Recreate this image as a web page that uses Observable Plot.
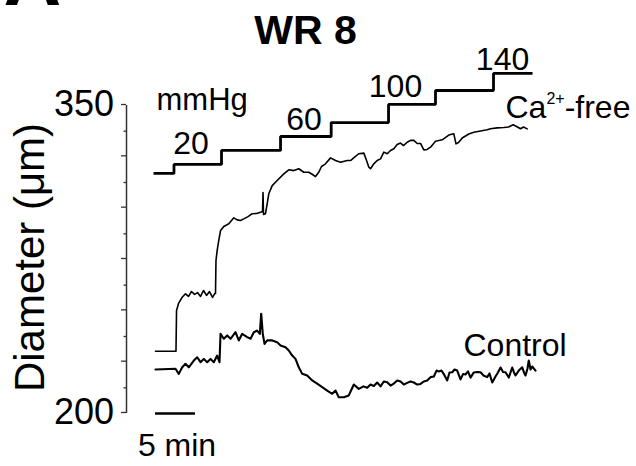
<!DOCTYPE html>
<html><head><meta charset="utf-8">
<script src="https://cdn.jsdelivr.net/npm/d3@7"></script>
<script src="https://cdn.jsdelivr.net/npm/@observablehq/plot@0.6"></script>
<style>
html,body{margin:0;padding:0;background:#fff;}
#chart svg{display:block;font-family:Arial,"Liberation Sans",Helvetica,sans-serif;}
</style></head><body><div id="chart"></div>
<script>
// Time in minutes, diameter in µm
const caFreeTime = [0, 2.29, 2.56, 2.63, 2.88, 3.34, 3.75, 4.13, 4.5, 4.88, 5.25, 5.63, 6.0, 6.38, 6.75, 7.13, 7.38, 7.5, 7.56, 7.71, 7.91, 8.13, 8.54, 9.16, 9.79, 10.21, 10.63, 11.04, 11.56, 12.09, 12.63, 13.13, 13.38, 13.44, 13.5, 13.75, 13.96, 14.16, 14.59, 15.21, 16.04, 16.66, 17.29, 17.91, 18.54, 19.16, 19.63, 20.0, 20.41, 20.75, 21.25, 21.88, 22.5, 23.13, 23.96, 24.38, 25.0, 25.41, 26.04, 26.38, 26.66, 26.88, 27.29, 27.71, 28.13, 28.54, 28.96, 29.38, 29.79, 30.21, 30.63, 31.0, 31.46, 31.88, 32.29, 32.71, 33.13, 33.54, 33.96, 34.38, 35.0, 35.84, 36.66, 37.29, 37.56, 37.88, 38.34, 39.16, 39.79, 40.63, 41.46, 41.88, 42.71, 43.54, 44.13, 44.71, 45.13, 45.63, 46.0, 46.46];
const caFreeDiameter = [230.3, 230.3, 230.3, 250.2, 253.6, 256.6, 258.3, 257.0, 259.4, 258.0, 258.9, 257.0, 259.9, 257.5, 259.4, 256.5, 258.3, 258.4, 274.5, 279.4, 284.3, 289.1, 291.1, 292.4, 295.3, 294.3, 294.0, 294.8, 295.9, 297.3, 297.4, 298.0, 298.4, 307.6, 296.9, 297.3, 302.1, 307.0, 311.0, 313.5, 316.7, 318.7, 318.3, 319.2, 317.5, 317.5, 316.4, 315.4, 317.5, 320.3, 321.6, 324.5, 323.2, 322.4, 323.2, 323.2, 325.2, 326.5, 326.8, 323.2, 320.0, 319.2, 321.6, 323.2, 324.0, 327.3, 326.5, 328.1, 328.9, 331.0, 331.7, 330.5, 332.1, 333.0, 333.0, 331.5, 331.5, 328.4, 328.6, 329.7, 332.6, 333.3, 335.6, 336.2, 331.3, 332.0, 334.2, 336.1, 337.0, 337.6, 338.2, 338.7, 339.1, 339.3, 339.5, 340.6, 339.8, 338.7, 339.5, 338.6];

const controlTime = [0, 2.5, 2.91, 3.34, 3.75, 4.16, 4.79, 5.21, 5.63, 6.04, 6.46, 6.88, 7.29, 7.71, 8.0, 8.13, 8.54, 8.96, 9.38, 10.0, 10.41, 10.84, 11.46, 11.88, 12.29, 12.71, 13.04, 13.21, 13.41, 13.63, 13.96, 14.59, 15.21, 15.63, 16.25, 16.66, 17.09, 17.5, 17.91, 18.34, 18.96, 19.59, 20.21, 20.84, 21.46, 22.09, 22.5, 22.91, 23.54, 24.16, 24.79, 25.41, 26.0, 26.46, 26.88, 27.29, 27.71, 28.13, 28.54, 28.96, 29.38, 29.79, 30.21, 30.63, 31.04, 31.46, 31.88, 32.29, 32.71, 33.13, 33.54, 33.96, 34.38, 34.79, 35.13, 35.41, 35.75, 36.04, 36.46, 36.75, 37.09, 37.38, 37.71, 38.13, 38.44, 38.75, 39.06, 39.38, 39.79, 40.19, 40.63, 41.0, 41.46, 41.75, 42.09, 42.5, 42.81, 43.13, 43.44, 43.75, 44.16, 44.59, 44.81, 45.0, 45.41, 45.84, 46.06, 46.25, 46.5, 46.66, 46.88, 47.09, 47.5];
const controlDiameter = [221.4, 221.8, 219.3, 222.5, 224.2, 222.5, 225.8, 227.4, 225.0, 226.6, 225.0, 226.6, 225.0, 228.2, 225.0, 238.8, 236.4, 238.0, 236.4, 239.6, 235.6, 238.8, 237.2, 236.4, 239.6, 240.4, 238.8, 248.6, 238.8, 233.9, 235.6, 235.6, 234.7, 233.1, 232.3, 230.7, 228.2, 226.6, 222.5, 219.3, 218.5, 216.1, 214.5, 212.8, 211.2, 209.6, 211.2, 207.9, 207.9, 208.8, 214.1, 212.0, 213.2, 212.5, 214.1, 213.4, 215.1, 213.2, 215.6, 215.2, 213.6, 214.6, 216.1, 215.6, 214.1, 214.9, 215.6, 215.1, 214.1, 214.4, 215.6, 216.1, 217.7, 218.0, 220.9, 220.5, 220.9, 219.2, 216.1, 220.0, 220.1, 221.4, 220.9, 216.6, 219.2, 219.0, 220.5, 217.5, 220.0, 220.2, 220.1, 218.5, 217.7, 219.5, 215.1, 218.0, 220.0, 222.4, 220.2, 220.1, 217.5, 222.4, 220.0, 218.5, 220.9, 222.5, 220.0, 218.5, 221.9, 225.8, 221.4, 222.9, 220.9];

// Pressure protocol (schematic step trace drawn on the diameter axis)
const pressureStepTime = [-0.25, 2.31, 8.25, 15.63, 21.96, 29.13, 35.0, 42.25, 47.13];
const pressureTraceLevel = [316.9, 321.3, 328.1, 334.9, 341.7, 350.5, 357.3, 365.6, 365.6];
const pressureLabels = ["20", "60", "100", "140"];

const yTicksMajor = [200, 225, 250, 275, 300, 325, 350];
const yTicksMinor = [212.5, 237.5, 262.5, 287.5, 312.5, 337.5];
const yTickLabels = [200, 350];
const scaleBarMinutes = 5;

const caFree = caFreeTime.map((t, i) => ({t, d: caFreeDiameter[i]}));
const control = controlTime.map((t, i) => ({t, d: controlDiameter[i]}));
const pressure = pressureStepTime.map((t, i) => ({t, d: pressureTraceLevel[i]}));

const xDomain = [-3.625, 60.125];
const FS = 32;
const labelPos = [[4.44, 326.6], [18.56, 338.3], [30.0, 353.9], [43.38, 367.5]];
const pressureAnno = pressureLabels.map((s, i) => ({s, t: labelPos[i][0], d: labelPos[i][1]}));

const chart = Plot.plot({
  width: 636, height: 466,
  marginLeft: 126, marginRight: 0, marginTop: 105, marginBottom: 53,
  x: {domain: xDomain, axis: null},
  y: {domain: [200, 350], axis: null},
  style: {fontFamily: 'Arial, "Liberation Sans", Helvetica, sans-serif', color: "black", background: "white"},
  marks: [
    Plot.ruleX([xDomain[0]], {y1: 200, y2: 350, stroke: "#333", strokeWidth: 1.5}),
    Plot.axisY(yTicksMajor, {anchor: "left", tickSize: 5, tickPadding: 7.5, stroke: "#333", strokeWidth: 1.3,
      tickFormat: d => yTickLabels.includes(d) ? String(d) : "", fontSize: 36, fill: "black", label: null, dy: -1}),
    Plot.axisY(yTicksMinor, {anchor: "left", tickSize: 2.5, stroke: "#333", strokeWidth: 1.3, tickFormat: () => "", label: null}),
    Plot.text(["Diameter (\u03bcm)"], {frameAnchor: "left", rotate: -90, dx: -83, dy: -2, textAnchor: "middle", lineAnchor: "bottom", fontSize: 42, fill: "black"}),
    Plot.text(["WR 8"], {frameAnchor: "top", dx: -76, dy: -62, lineAnchor: "bottom", fontSize: 41, fontWeight: "bold", fill: "black"}),
    Plot.text(["A"], {frameAnchor: "top-left", dx: 3 - 126, dy: 4 - 105, textAnchor: "start", lineAnchor: "bottom", fontSize: 80, fontWeight: "bold", fill: "black"}),
    Plot.line(pressure, {x: "t", y: "d", curve: "step-after", stroke: "black", strokeWidth: 2.8, strokeLinejoin: "miter", strokeLinecap: "butt"}),
    Plot.line(caFree, {x: "t", y: "d", stroke: "black", strokeWidth: 1.6}),
    Plot.line(control, {x: "t", y: "d", stroke: "black", strokeWidth: 2.1}),
    Plot.text(pressureAnno, {x: "t", y: "d", text: "s", lineAnchor: "bottom", fontSize: FS, fill: "black"}),
    Plot.text(["mmHg"], {x: 0.125, y: 347.6, textAnchor: "start", lineAnchor: "bottom", fontSize: 31, fill: "black"}),
    Plot.text(["Ca2+-free"], {x: 43.75, y: 343.7, textAnchor: "start", lineAnchor: "bottom", fontSize: FS, fill: "black"}),
    Plot.text(["Control"], {x: 38.5, y: 228.2, textAnchor: "start", lineAnchor: "bottom", fontSize: FS, fill: "black"}),
    Plot.ruleY([200], {x1: 0, x2: scaleBarMinutes, stroke: "black", strokeWidth: 2.5}),
    Plot.text([`${scaleBarMinutes} min`], {x: 2.69, y: 200, dy: 42, lineAnchor: "bottom", fontSize: FS, fill: "black"})
  ]
});

// superscript for Ca2+
chart.querySelectorAll("text").forEach(el => {
  if (el.textContent === "Ca2+-free") {
    el.textContent = "";
    const ns = "http://www.w3.org/2000/svg";
    const a = document.createElementNS(ns, "tspan"); a.textContent = "Ca";
    const b = document.createElementNS(ns, "tspan"); b.textContent = "2+"; b.setAttribute("font-size", 16); b.setAttribute("dy", -14);
    const c = document.createElementNS(ns, "tspan"); c.textContent = "-free"; c.setAttribute("dy", 14);
    el.append(a, b, c);
  }
});
document.getElementById("chart").append(chart);
</script></body></html>
